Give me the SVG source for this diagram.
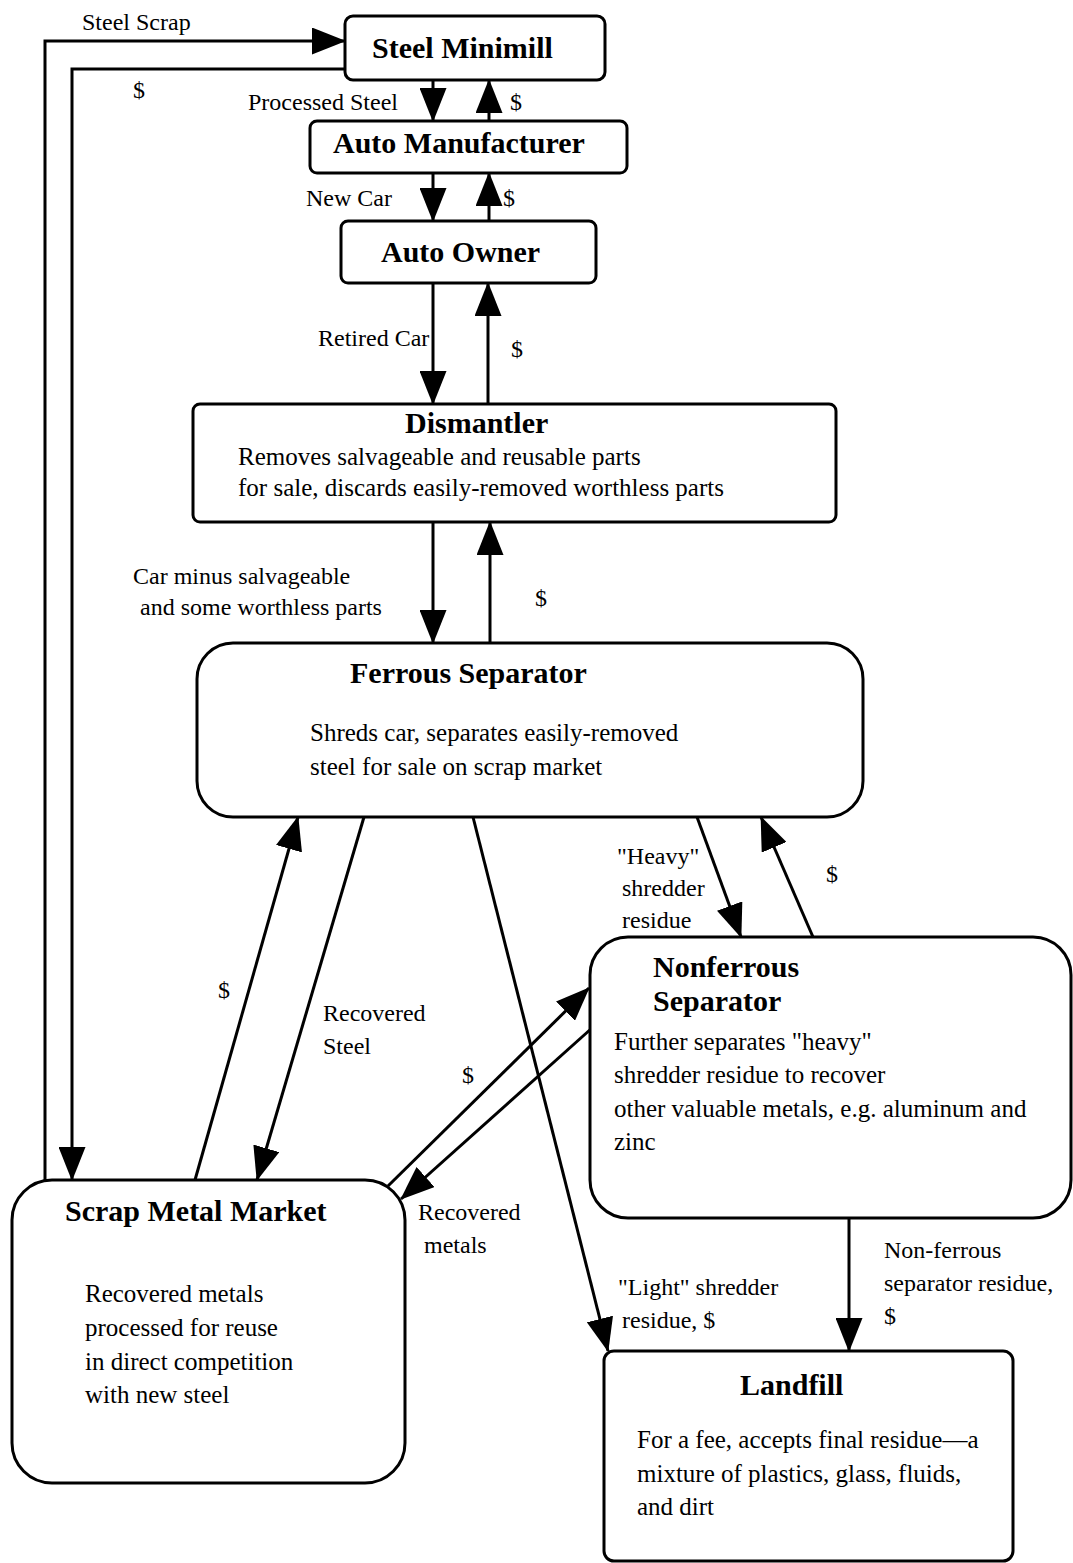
<svg xmlns="http://www.w3.org/2000/svg" width="1073" height="1563" viewBox="0 0 1073 1563">
<style>
text{font-family:"Liberation Serif","Times New Roman",serif;fill:#000}
.t{font-weight:bold;font-size:30px}
.b{font-size:25px}
.l{font-size:24px}
.box{fill:#fff;stroke:#000;stroke-width:3}
.c{fill:none;stroke:#000;stroke-width:3;marker-end:url(#ah)}
</style>
<defs>
<marker id="ah" viewBox="0 0 34 27" refX="33" refY="13.5" markerWidth="34" markerHeight="27" markerUnits="userSpaceOnUse" orient="auto">
<path d="M0,0 L34,13.5 L0,27 z" fill="#000"/>
</marker>
</defs>
<rect width="1073" height="1563" fill="#fff"/>
<g id="connectors">
<path class="c" d="M45,1182 V41 H345"/>
<path class="c" d="M345,69 H72 V1180"/>
<path class="c" d="M433,80 V121"/>
<path class="c" d="M489,121 V80"/>
<path class="c" d="M433,173 V221"/>
<path class="c" d="M489,221 V173"/>
<path class="c" d="M433,283 V404"/>
<path class="c" d="M488,404 V283"/>
<path class="c" d="M433,522 V643"/>
<path class="c" d="M490,643 V522"/>
<path class="c" d="M195,1180 L298,817"/>
<path class="c" d="M364,817 L257,1180"/>
<path class="c" d="M473,817 L608,1351"/>
<path class="c" d="M697,817 L741,937"/>
<path class="c" d="M813,937 L761,817"/>
<path class="c" d="M388,1186 L589,988"/>
<path class="c" d="M592,1028 L401,1199"/>
<path class="c" d="M849,1218 V1351"/>
</g>
<g id="labels">
<text class="l" x="82" y="30">Steel Scrap</text>
<text class="l" x="133" y="98">$</text>
<text class="l" x="248" y="110">Processed Steel</text>
<text class="l" x="510" y="110">$</text>
<text class="l" x="306" y="206">New Car</text>
<text class="l" x="503" y="206">$</text>
<text class="l" x="318" y="346">Retired Car</text>
<text class="l" x="511" y="357">$</text>
<text class="l" x="133" y="584">Car minus salvageable</text>
<text class="l" x="140" y="615">and some worthless parts</text>
<text class="l" x="535" y="606">$</text>
<text class="l" x="218" y="998">$</text>
<text class="l" x="323" y="1021">Recovered</text>
<text class="l" x="323" y="1054">Steel</text>
<text class="l" x="462" y="1083">$</text>
<text class="l" x="617" y="864">"Heavy"</text>
<text class="l" x="622" y="896">shredder</text>
<text class="l" x="622" y="928">residue</text>
<text class="l" x="826" y="882">$</text>
<text class="l" x="418" y="1220">Recovered</text>
<text class="l" x="424" y="1253">metals</text>
<text class="l" x="618" y="1295">"Light" shredder</text>
<text class="l" x="622" y="1328">residue, $</text>
<text class="l" x="884" y="1258">Non-ferrous</text>
<text class="l" x="884" y="1291">separator residue,</text>
<text class="l" x="884" y="1324">$</text>
</g>
<g id="steel-minimill">
<rect class="box" x="345" y="16" width="260" height="64" rx="8"/>
<text class="t" x="372" y="58">Steel Minimill</text>
</g>
<g id="auto-manufacturer">
<rect class="box" x="310" y="121" width="317" height="52" rx="7"/>
<text class="t" x="333" y="153">Auto Manufacturer</text>
</g>
<g id="auto-owner">
<rect class="box" x="341" y="221" width="255" height="62" rx="7"/>
<text class="t" x="381" y="262">Auto Owner</text>
</g>
<g id="dismantler">
<rect class="box" x="193" y="404" width="643" height="118" rx="7"/>
<text class="t" x="405" y="433">Dismantler</text>
<text class="b" x="238" y="465">Removes salvageable and reusable parts</text>
<text class="b" x="238" y="496">for sale, discards easily-removed worthless parts</text>
</g>
<g id="ferrous-separator">
<rect class="box" x="197" y="643" width="666" height="174" rx="36"/>
<text class="t" x="350" y="683">Ferrous Separator</text>
<text class="b" x="310" y="741">Shreds car, separates easily-removed</text>
<text class="b" x="310" y="775">steel for sale on scrap market</text>
</g>
<g id="nonferrous-separator">
<rect class="box" x="590" y="937" width="481" height="281" rx="38"/>
<text class="t" x="653" y="977">Nonferrous</text>
<text class="t" x="653" y="1011">Separator</text>
<text class="b" x="614" y="1050">Further separates "heavy"</text>
<text class="b" x="614" y="1083">shredder residue to recover</text>
<text class="b" x="614" y="1117">other valuable metals, e.g. aluminum and</text>
<text class="b" x="614" y="1150">zinc</text>
</g>
<g id="scrap-metal-market">
<rect class="box" x="12" y="1180" width="393" height="303" rx="40"/>
<text class="t" x="65" y="1221">Scrap Metal Market</text>
<text class="b" x="85" y="1302">Recovered metals</text>
<text class="b" x="85" y="1336">processed for reuse</text>
<text class="b" x="85" y="1370">in direct competition</text>
<text class="b" x="85" y="1403">with new steel</text>
</g>
<g id="landfill">
<rect class="box" x="604" y="1351" width="409" height="210" rx="10"/>
<text class="t" x="740" y="1395">Landfill</text>
<text class="b" x="637" y="1448">For a fee, accepts final residue—a</text>
<text class="b" x="637" y="1482">mixture of plastics, glass, fluids,</text>
<text class="b" x="637" y="1515">and dirt</text>
</g>
</svg>
